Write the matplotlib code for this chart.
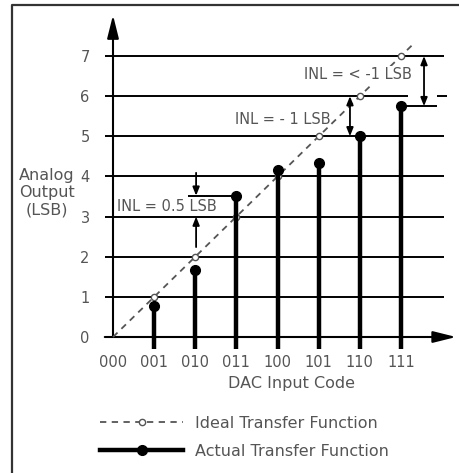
import matplotlib.pyplot as plt
from matplotlib.lines import Line2D

# DAC transfer function data
codes = ['000', '001', '010', '011', '100', '101', '110', '111']
code_pos = [0, 1, 2, 3, 4, 5, 6, 7]
ideal = [0, 1, 2, 3, 4, 5, 6, 7]
ideal_tail = 7.3          # dashed ideal line runs a bit past code 111
actual = [0.78, 1.67, 3.52, 4.15, 4.33, 5.0, 5.75]   # codes 001..111
levels = [0, 1, 2, 3, 4, 5, 6, 7]

gray = '#555555'
W, H = 459, 473
x0, y0 = 113, 337        # pixel position of the origin
sx, sy = 41.14, 40.14    # pixels per unit

fig = plt.figure(figsize=(W / 100, H / 100), dpi=100)
ax = fig.add_axes([x0 / W, (H - y0) / H, (W - x0) / W, y0 / H])
ax.set_xlim(0, (W - x0) / sx)
ax.set_ylim(0, y0 / sy)
for s in ax.spines.values():
    s.set_visible(False)

# horizontal grid, level 6 is broken by the INL arrow
ax.hlines([l for l in levels[1:] if l != 6], 0, 8.05, color='black', lw=1.4)
ax.hlines(6, 0, 7.17, color='black', lw=1.4)
ax.hlines(6, 7.88, 8.12, color='black', lw=1.4)

# ticks
ax.set_yticks(levels)
ax.tick_params(axis='y', length=5.8, width=1.4, pad=11, labelsize=10.5,
               labelcolor=gray, color='black')
ax.set_xticks(code_pos, codes)
ax.tick_params(axis='x', length=0, pad=13, labelsize=10.5, labelcolor=gray)

# axis arrows
head = dict(arrowstyle='-|>,head_length=1.4,head_width=0.35', color='black',
            lw=1.5, shrinkA=0, shrinkB=0)
ax.annotate('', xy=(0, 8.02), xytext=(0, 0), arrowprops=head, annotation_clip=False)
ax.annotate('', xy=(8.34, 0), xytext=(-0.2, 0), arrowprops=head, annotation_clip=False)

# ideal transfer function
ax.plot(code_pos + [ideal_tail], ideal + [ideal_tail], color=gray, lw=1.3,
        ls=(0, (3.5, 3)), marker='o', ms=4.5, mfc='white', mec=gray,
        markevery=list(range(1, len(ideal))), zorder=3, clip_on=False)

# actual transfer function
ax.vlines(code_pos[1:], -0.3, actual, color='black', lw=3.2, zorder=4, clip_on=False)
ax.plot(code_pos[1:], actual, 'o', color='black', ms=7, zorder=4, clip_on=False)

# INL annotations
small = dict(arrowstyle='-|>,head_length=0.5,head_width=0.2', color='black',
             lw=1.3, shrinkA=0, shrinkB=0)
both = dict(arrowstyle='<|-|>,head_length=0.5,head_width=0.2', color='black',
            lw=1.3, shrinkA=0, shrinkB=0)

ax.hlines(actual[2], 1.82, 3, color='black', lw=1.4)
ax.annotate('', xy=(2.02, actual[2]), xytext=(2.02, 4.09), arrowprops=small)
ax.annotate('', xy=(2.02, ideal[3]), xytext=(2.02, 2.24), arrowprops=small)
ax.text(1.31, 3.24, 'INL = 0.5 LSB', ha='center', va='center', fontsize=10.5,
        color=gray, zorder=5)

ax.annotate('', xy=(5.76, ideal[6]), xytext=(5.76, actual[5]), arrowprops=both)
ax.text(4.13, 5.41, 'INL = - 1 LSB', ha='center', va='center', fontsize=10.5,
        color=gray, zorder=5)

ax.hlines(actual[6], 6.9, 7.88, color='black', lw=1.4)
ax.annotate('', xy=(7.56, ideal[7]), xytext=(7.56, actual[6]), arrowprops=both)
ax.text(5.96, 6.53, 'INL = < -1 LSB', ha='center', va='center', fontsize=10.5,
        color=gray, zorder=5,
        bbox=dict(facecolor='white', edgecolor='none', pad=1))

# axis titles
ax.text(-1.60, 3.59, 'Analog\nOutput\n(LSB)', ha='center', va='center',
        fontsize=11.5, color=gray, linespacing=1.2, multialignment='center')
ax.text(4.33, -1.27, 'DAC Input Code', ha='center', va='baseline',
        fontsize=11.5, color=gray)

# legend
handles = [Line2D([], [], color=gray, lw=1.3, ls=(0, (3.5, 3)), marker='o',
                  ms=4.5, mfc='white', mec=gray),
           Line2D([], [], color='black', lw=3.2, marker='o', ms=7)]
fig.legend(handles, ['Ideal Transfer Function', 'Actual Transfer Function'],
           loc='upper left', bbox_to_anchor=(100 / W, 1 - 416 / H),
           frameon=False, fontsize=11.5, handlelength=5.2, handletextpad=0.75,
           labelspacing=0.8, borderpad=0, borderaxespad=0, numpoints=1,
           labelcolor=gray)

# frame (top and left edges only)
fig.add_artist(Line2D([12 / W, 12 / W, 1], [0, 1 - 5 / H, 1 - 5 / H],
                      transform=fig.transFigure, color='#333333', lw=1.6))

fig.savefig('out.png', dpi=100)
